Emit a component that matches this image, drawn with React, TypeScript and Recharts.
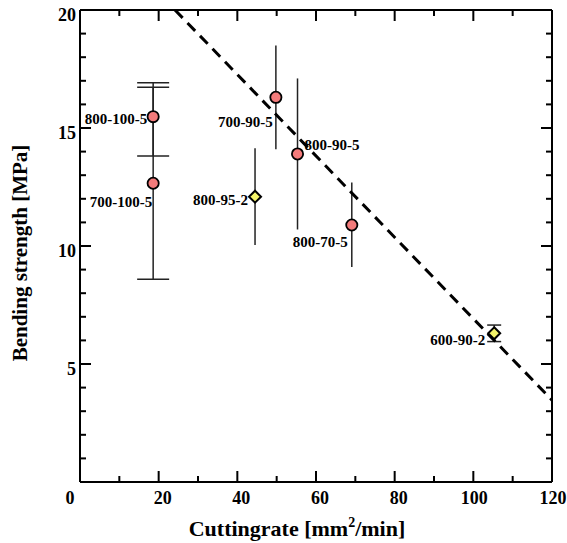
import { ScatterChart, Scatter, XAxis, YAxis, ErrorBar, Label } from 'recharts';

// sample names (sintering temp - pressure - time)
const samples = ['800-100-5', '700-100-5', '700-90-5', '800-90-5', '800-70-5', '800-95-2', '600-90-2'];
const cuttingRate = [18.6, 18.6, 49.8, 55.3, 69.1, 44.5, 105.3];
const strength = [15.48, 12.66, 16.3, 13.9, 10.89, 12.09, 6.3];
const errLow = [1.67, 4.07, 2.2, 3.2, 1.78, 2.05, 0.35];
const errHigh = [1.44, 4.07, 2.2, 3.2, 1.8, 2.05, 0.35];
const markerKind = ['circle', 'circle', 'circle', 'circle', 'circle', 'diamond', 'diamond'];
const capKind = ['wide', 'wide', 'none', 'none', 'none', 'none', 'small'];

// linear fit (dashed)
const fitRate = [24.15, 120];
const fitStrength = [20, 3.47];

const xTicks = [0, 10, 20, 30, 40, 50, 60, 70, 80, 90, 100, 110, 120];
const yTicks = [0, 1, 2, 3, 4, 5, 6, 7, 8, 9, 10, 11, 12, 13, 14, 15, 16, 17, 18, 19, 20];

const FONT = '"Liberation Serif", "Times New Roman", serif';

const labelPos: Record<string, { dx: number; dy: number; anchor: 'start' | 'end' }> = {
  '800-100-5': { dx: -6, dy: 7, anchor: 'end' },
  '700-100-5': { dx: -1, dy: 24, anchor: 'end' },
  '700-90-5': { dx: -3, dy: 30, anchor: 'end' },
  '800-90-5': { dx: 7, dy: -4, anchor: 'start' },
  '800-70-5': { dx: -4, dy: 22, anchor: 'end' },
  '800-95-2': { dx: -7, dy: 8, anchor: 'end' },
  '600-90-2': { dx: -9, dy: 12, anchor: 'end' },
};

const points = samples.map((name, i) => ({
  name,
  rate: cuttingRate[i],
  strength: strength[i],
  err: [errLow[i], errHigh[i]],
  kind: markerKind[i],
  cap: capKind[i],
}));

const fitPoints = fitRate.map((r, i) => ({ rate: r, strength: fitStrength[i] }));

const circles = points.filter((p) => p.kind === 'circle');
const diamonds = points.filter((p) => p.kind === 'diamond');
const errWide = points.filter((p) => p.cap === 'wide');
const errNone = points.filter((p) => p.cap === 'none');
const errSmall = points.filter((p) => p.cap === 'small');

const PointLabel = ({ cx, cy, name }: any) => {
  const pos = labelPos[name];
  return (
    <text
      x={cx + pos.dx}
      y={cy + pos.dy}
      textAnchor={pos.anchor}
      fontFamily={FONT}
      fontWeight="bold"
      fontSize={15}
      fill="#000"
    >
      {name}
    </text>
  );
};

const CircleShape = (props: any) => (
  <g>
    <circle cx={props.cx} cy={props.cy} r={5.6} fill="#f37b7b" stroke="#000" strokeWidth={1.8} />
    <PointLabel cx={props.cx} cy={props.cy} name={props.payload.name} />
  </g>
);

const DiamondShape = (props: any) => {
  const { cx, cy } = props;
  const h = 6;
  return (
    <g>
      <polygon
        points={`${cx},${cy - h} ${cx + h},${cy} ${cx},${cy + h} ${cx - h},${cy}`}
        fill="#f4f46a"
        stroke="#000"
        strokeWidth={2}
      />
      <PointLabel cx={cx} cy={cy} name={props.payload.name} />
    </g>
  );
};

const NoShape = () => <g />;

const MAJOR = 11;
const MINOR = 6;

const xLabelShift = (v: number) => (v === 0 ? -10 : v >= 100 ? 1 : 4);

const BottomTick = ({ x, y, payload }: any) => {
  const v = payload.value;
  const major = v % 20 === 0;
  return (
    <g>
      <rect x={x - 1} y={y - (major ? MAJOR : MINOR)} width={2} height={major ? MAJOR : MINOR} fill="#000" />
      {major && (
        <text x={x + xLabelShift(v)} y={y + 22} textAnchor="middle" fontFamily={FONT} fontWeight="bold" fontSize={18} fill="#000">
          {v}
        </text>
      )}
    </g>
  );
};

const TopTick = ({ x, y, payload }: any) => {
  const len = payload.value % 20 === 0 ? MAJOR : MINOR;
  return <rect x={x - 1} y={y} width={2} height={len} fill="#000" />;
};

const LeftTick = ({ x, y, payload }: any) => {
  const v = payload.value;
  const major = v % 5 === 0;
  const len = major ? MAJOR : MINOR;
  return (
    <g>
      <rect x={x} y={y - 1} width={len} height={2} fill="#000" />
      {major && v !== 0 && (
        <text x={x - 4} y={y + 11} textAnchor="end" fontFamily={FONT} fontWeight="bold" fontSize={18} fill="#000">
          {v}
        </text>
      )}
    </g>
  );
};

const RightTick = ({ x, y, payload }: any) => {
  const len = payload.value % 5 === 0 ? MAJOR : MINOR;
  return <rect x={x - len} y={y - 1} width={len} height={2} fill="#000" />;
};

const XTitle = ({ viewBox }: any) => (
  <text
    x={viewBox.x + viewBox.width / 2 - 19}
    y={536}
    textAnchor="middle"
    fontFamily={FONT}
    fontWeight="bold"
    fontSize={22}
    fill="#000"
  >
    Cuttingrate [mm
    <tspan dy={-9} fontSize={14}>2</tspan>
    <tspan dy={9}>/min]</tspan>
  </text>
);

const YTitle = ({ viewBox }: any) => {
  const cy = viewBox.y + viewBox.height / 2 + 7;
  return (
    <text
      x={27}
      y={cy}
      transform={`rotate(-90, 27, ${cy})`}
      textAnchor="middle"
      fontFamily={FONT}
      fontWeight="bold"
      fontSize={21}
      fill="#000"
    >
      Bending strength [MPa]
    </text>
  );
};

const axisLine = { stroke: '#000', strokeWidth: 2 };

export default function App() {
  return (
    <div style={{ position: 'absolute', left: 0, top: 0, background: '#fff' }}>
      <ScatterChart width={567} height={543} margin={{ top: 9, right: 14, bottom: 0, left: 0 }}>
        <XAxis
          xAxisId="bottom"
          type="number"
          dataKey="rate"
          domain={[0, 120]}
          ticks={xTicks}
          interval={0}
          height={61}
          tickSize={0}
          tickMargin={0}
          stroke="#000"
          axisLine={axisLine}
          tick={<BottomTick />}
        >
          <Label content={<XTitle />} />
        </XAxis>
        <XAxis
          xAxisId="top"
          orientation="top"
          type="number"
          dataKey="rate"
          domain={[0, 120]}
          ticks={xTicks}
          interval={0}
          height={1}
          tickSize={0}
          tickMargin={0}
          stroke="#000"
          axisLine={axisLine}
          tick={<TopTick />}
        />
        <YAxis
          yAxisId="left"
          type="number"
          dataKey="strength"
          domain={[0, 20]}
          ticks={yTicks}
          interval={0}
          width={80}
          tickSize={0}
          tickMargin={0}
          stroke="#000"
          axisLine={axisLine}
          tick={<LeftTick />}
        >
          <Label content={<YTitle />} />
        </YAxis>
        <YAxis
          yAxisId="right"
          orientation="right"
          type="number"
          dataKey="strength"
          domain={[0, 20]}
          ticks={yTicks}
          interval={0}
          width={1}
          tickSize={0}
          tickMargin={0}
          stroke="#000"
          axisLine={axisLine}
          tick={<RightTick />}
        />

        <Scatter
          data={fitPoints}
          xAxisId="top"
          yAxisId="right"
          line={{ stroke: '#000', strokeWidth: 3, strokeDasharray: '11 7' }}
          shape={NoShape}
          isAnimationActive={false}
        />
        <Scatter data={errWide} xAxisId="bottom" yAxisId="left" shape={NoShape} isAnimationActive={false}>
          <ErrorBar dataKey="err" direction="y" width={16} stroke="#222" strokeWidth={1.5} isAnimationActive={false} />
        </Scatter>
        <Scatter data={errNone} xAxisId="bottom" yAxisId="left" shape={NoShape} isAnimationActive={false}>
          <ErrorBar dataKey="err" direction="y" width={0} stroke="#222" strokeWidth={1.5} isAnimationActive={false} />
        </Scatter>
        <Scatter data={errSmall} xAxisId="bottom" yAxisId="left" shape={NoShape} isAnimationActive={false}>
          <ErrorBar dataKey="err" direction="y" width={7} stroke="#222" strokeWidth={1.5} isAnimationActive={false} />
        </Scatter>
        <Scatter data={circles} xAxisId="bottom" yAxisId="left" shape={CircleShape} isAnimationActive={false} />
        <Scatter data={diamonds} xAxisId="bottom" yAxisId="left" shape={DiamondShape} isAnimationActive={false} />
      </ScatterChart>
    </div>
  );
}
